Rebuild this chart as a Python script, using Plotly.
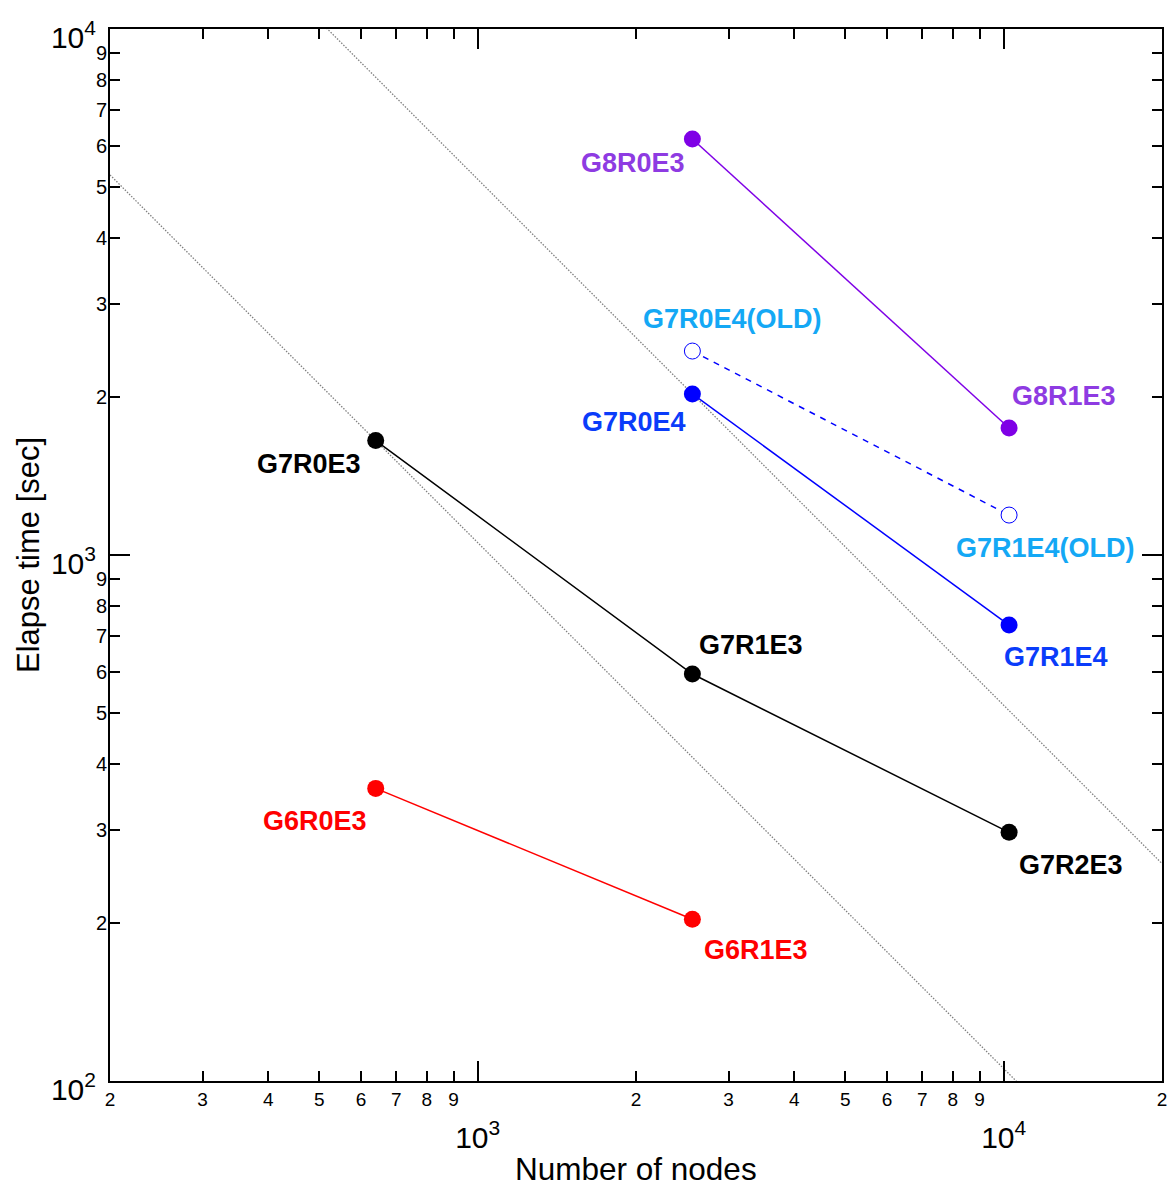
import numpy as np
import plotly.graph_objects as go

# ---------------- data ----------------
nodes_g6 = [640, 2560]
time_g6 = [360, 203]
labels_g6 = ["G6R0E3", "G6R1E3"]

nodes_g7e3 = [640, 2560, 10240]
time_g7e3 = [1650, 594, 297]
labels_g7e3 = ["G7R0E3", "G7R1E3", "G7R2E3"]

nodes_g7e4 = [2560, 10240]
time_g7e4 = [2024, 736]
labels_g7e4 = ["G7R0E4", "G7R1E4"]

nodes_g7e4_old = [2560, 10240]
time_g7e4_old = [2442, 1191]
labels_g7e4_old = ["G7R0E4(OLD)", "G7R1E4(OLD)"]

nodes_g8 = [2560, 10240]
time_g8 = [6180, 1744]
labels_g8 = ["G8R0E3", "G8R1E3"]

x_range = [200, 20000]
y_range = [100, 10000]

x_minor_vals = [200, 300, 400, 500, 600, 700, 800, 900,
                2000, 3000, 4000, 5000, 6000, 7000, 8000, 9000, 20000]
x_minor_text = ["2", "3", "4", "5", "6", "7", "8", "9",
                "2", "3", "4", "5", "6", "7", "8", "9", "2"]
x_major_vals = [1000, 10000]
x_major_text = ["10<sup>3</sup>", "10<sup>4</sup>"]

y_minor_vals = [200, 300, 400, 500, 600, 700, 800, 900,
                2000, 3000, 4000, 5000, 6000, 7000, 8000, 9000]
y_minor_text = ["2", "3", "4", "5", "6", "7", "8", "9",
                "2", "3", "4", "5", "6", "7", "8", "9"]
y_major_vals = [100, 1000, 10000]
y_major_text = ["10<sup>2</sup>", "10<sup>3</sup>", "10<sup>4</sup>"]

# ---------------- styles ----------------
FONT = "Liberation Sans, Arial, Helvetica, sans-serif"
C_BLACK = "#000000"
C_RED = "#FF0000"
C_PURPLE = "#7F00E6"
C_PURPLE_TXT = "#8E3BE2"
C_BLUE = "#0000FF"
C_BLUE_TXT = "#0A3CFA"
C_LBLUE_TXT = "#14A8F5"

fig = go.Figure()

# ideal-scaling reference lines (slope -1) through G7R0E3 and G7R0E4
for nx, ty in [(nodes_g7e3[0], time_g7e3[0]), (nodes_g7e4[0], time_g7e4[0])]:
    c = nx * ty
    fig.add_trace(go.Scatter(
        x=x_range, y=[c / x_range[0], c / x_range[1]], mode="lines",
        line=dict(color="#808080", width=1.3, dash="1.5px,1.5px"),
        hoverinfo="skip", showlegend=False))

def series(xs, ys, color, dash="solid", open_marker=False):
    fig.add_trace(go.Scatter(
        x=xs, y=ys, mode="lines+markers",
        line=dict(color=color, width=1.5, dash=dash),
        marker=dict(size=17 if not open_marker else 16,
                    color="white" if open_marker else color,
                    line=dict(color=color, width=1 if open_marker else 0)),
        showlegend=False))

series(nodes_g6, time_g6, C_RED)
series(nodes_g7e3, time_g7e3, C_BLACK)
series(nodes_g7e4_old, time_g7e4_old, C_BLUE, dash="6px,6px", open_marker=True)
series(nodes_g7e4, time_g7e4, C_BLUE)
series(nodes_g8, time_g8, C_PURPLE)

# empty trace on the overlay axes (for decade ticks)
fig.add_trace(go.Scatter(x=[], y=[], xaxis="x2", yaxis="y2", showlegend=False))

# ---------------- point labels ----------------
label_offsets = {
    "G6R0E3": (-61, -33), "G6R1E3": (64, -31),
    "G7R0E3": (-67, -23), "G7R1E3": (59, 29), "G7R2E3": (62, -33),
    "G7R0E4": (-58, -28), "G7R1E4": (47, -32),
    "G7R0E4(OLD)": (40, 32), "G7R1E4(OLD)": (36, -33),
    "G8R0E3": (-59, -24), "G8R1E3": (55, 32),
}
for xs, ys, labs, col in [
    (nodes_g6, time_g6, labels_g6, C_RED),
    (nodes_g7e3, time_g7e3, labels_g7e3, C_BLACK),
    (nodes_g7e4, time_g7e4, labels_g7e4, C_BLUE_TXT),
    (nodes_g7e4_old, time_g7e4_old, labels_g7e4_old, C_LBLUE_TXT),
    (nodes_g8, time_g8, labels_g8, C_PURPLE_TXT),
]:
    for xv, yv, lab in zip(xs, ys, labs):
        dx, dy = label_offsets[lab]
        fig.add_annotation(
            x=np.log10(xv), y=np.log10(yv), xref="x", yref="y",
            text=f"<b>{lab}</b>", showarrow=False,
            xshift=dx, yshift=dy, xanchor="center", yanchor="middle",
            font=dict(family=FONT, size=27, color=col))

# axis titles
fig.add_annotation(x=0.5, y=-0.084, xref="paper", yref="paper",
                   text="Number of nodes", showarrow=False,
                   xanchor="center", yanchor="middle",
                   font=dict(family=FONT, size=31.5, color="black"))
fig.add_annotation(x=-0.078, y=0.5, xref="paper", yref="paper",
                   text="Elapse time [sec]", showarrow=False, textangle=-90,
                   xanchor="center", yanchor="middle",
                   font=dict(family=FONT, size=31, color="black"))

lx = [np.log10(x_range[0]), np.log10(x_range[1])]
ly = [np.log10(y_range[0]), np.log10(y_range[1])]

common = dict(type="log", showgrid=False, zeroline=False, showline=True,
              linecolor="black", linewidth=2, mirror="ticks", ticks="inside",
              tickcolor="black", tickwidth=1.5, tickmode="array",
              automargin=False)

# the page body adds an 8px offset; margins compensate for it
fig.update_layout(
    width=1176, height=1189,
    margin=dict(l=102, r=22, t=21, b=116, autoexpand=False),
    paper_bgcolor="white", plot_bgcolor="white",
    font=dict(family=FONT, color="black"),
    xaxis=dict(**common, range=lx, tickvals=x_minor_vals, ticktext=x_minor_text,
               ticklen=10, tickangle=0, ticklabelstandoff=0,
               tickfont=dict(size=19)),
    yaxis=dict(**common, range=ly, tickvals=y_minor_vals, ticktext=y_minor_text,
               ticklen=10, ticklabelstandoff=-3, tickfont=dict(size=20)),
    xaxis2=dict(**common, range=lx, overlaying="x", anchor="y", side="bottom",
                tickvals=x_major_vals, ticktext=x_major_text, ticklen=20,
                tickangle=0, ticklabelstandoff=29, tickfont=dict(size=30)),
    yaxis2=dict(**common, range=ly, overlaying="y", anchor="x", side="left",
                tickvals=y_major_vals, ticktext=y_major_text, ticklen=20,
                ticklabelstandoff=6, ticklabelshift=8,
                tickfont=dict(size=30)),
)

fig.write_html("out.html")
